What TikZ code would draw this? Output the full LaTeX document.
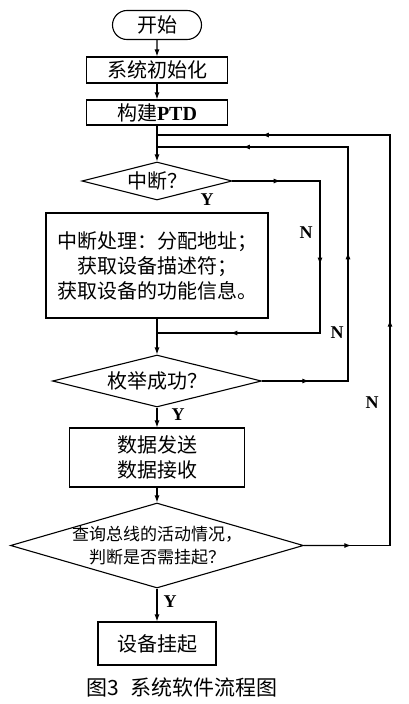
\documentclass[tikz,border=0pt]{standalone}
\usepackage{fontspec}
\setmainfont{Liberation Serif}
\newfontfamily\cjk{Noto Sans CJK SC}
\usepackage{tikz}
\usetikzlibrary{arrows.meta,shapes.geometric,shapes.misc,calc}

% line from #1 to #2 with an arrow head half way
\newcommand\midline[2]{%
  \draw[line cap=rect] (#1) -- (#2);
  \draw[->] (#1) -- ($(#1)!0.55!(#2)$);}

\begin{document}
\begin{tikzpicture}[x=1pt,y=-1pt,line width=1.1pt,
  >={Latex[length=7pt,width=5pt]},
  every node/.style={font=\cjk\fontsize{20}{25}\selectfont},
  startbox/.style={draw,rounded rectangle,minimum width=89pt,minimum height=29pt,inner sep=0pt},
  procbox/.style={draw,rectangle,inner sep=0pt,align=center},
  decision/.style={draw,diamond,inner sep=0pt,aspect=4},
  yn/.style={font=\rmfamily\bfseries\fontsize{18}{18}\selectfont}]
\useasboundingbox (0,0) rectangle (408,704);

\node[startbox] (start) at (157,25) {开始};
\node[procbox,minimum width=141pt,minimum height=26pt] (init) at (157,70) {系统初始化};
\node[procbox,minimum width=141pt,minimum height=25pt] (ptd) at (157,112.5) {构建{\rmfamily\bfseries PTD}};
\node[decision,minimum width=150pt,minimum height=38pt] (int) at (157,181) {中断？};
\node[procbox,minimum width=222pt,minimum height=105pt] (isr) at (157,265.5)
  {中断处理：分配地址；\\获取设备描述符；\\获取设备的功能信息。};
\node[decision,minimum width=209pt,minimum height=52pt] (enum) at (157,381) {枚举成功？};
\node[procbox,minimum width=175pt,minimum height=59pt] (data) at (157,457.5) {数据发送\\数据接收};
\node[decision,minimum width=293pt,minimum height=85pt,
  label={[font=\cjk\fontsize{17}{23}\selectfont,align=center]center:查询总线的活动情况，\\判断是否需挂起？}]
  (bus) at (157,545.5) {};
\node[procbox,minimum width=118pt,minimum height=43pt] (halt) at (157,643.5) {设备挂起};
\node[font=\cjk\fontsize{21}{21}\selectfont] (cap) at (182,687) {图3\hspace{0.5em}系统软件流程图};

% corners of the return lines
\coordinate (r1) at (320,333);
\coordinate (r2) at (348,147);
\coordinate (r3) at (390,135);
\coordinate (c1) at (int.east -| r1);
\coordinate (m1) at (isr.south |- r1);
\coordinate (c2) at (enum.east -| r2);
\coordinate (m2) at (ptd.south |- r2);
\coordinate (c3) at (bus.east -| r3);
\coordinate (m3) at (ptd.south |- r3);

\draw[->] (start) -- (init);
\draw[->] (init) -- (ptd);
\draw[->] (ptd) -- (int);
\draw[->] (isr) -- (enum);
\draw[->] (enum) -- (data);
\draw[->] (data) -- (bus);
\draw[->] (bus) -- (halt);

% N branches
\midline{int.east}{c1}
\midline{c1}{r1}
\midline{r1}{m1}
\midline{enum.east}{c2}
\midline{c2}{r2}
\midline{r2}{m2}
\midline{bus.east}{c3}
\midline{c3}{r3}
\midline{r3}{m3}

\node[yn] (y1) at (207,200) {Y};
\node[yn] (n1) at (306,233) {N};
\node[yn] (n2) at (337,333) {N};
\node[yn] (y2) at (178,415) {Y};
\node[yn] (n3) at (372,403) {N};
\node[yn] (y3) at (170,602) {Y};
\end{tikzpicture}
\end{document}
